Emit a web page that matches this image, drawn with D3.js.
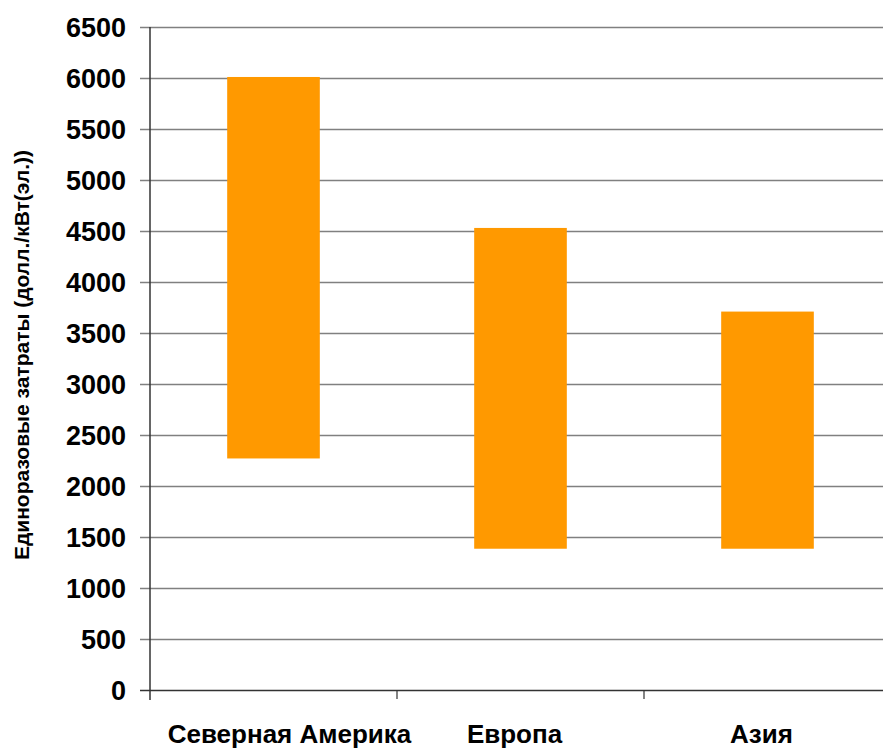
<!DOCTYPE html>
<html>
<head>
<meta charset="utf-8">
<script src="https://cdn.jsdelivr.net/npm/d3@7"></script>
<style>
body { margin: 0; background: #fff; }
svg { display: block; font-family: "Liberation Sans", Arial, sans-serif; font-weight: bold; }
</style>
</head>
<body>
<svg></svg>
<script>
// regions and cost range (low / high), USD per kW(e)
var regions = ["Северная Америка", "Европа", "Азия"];
var lowValues = [2270, 1385, 1385];
var highValues = [6010, 4530, 3710];
var yTicks = [0, 500, 1000, 1500, 2000, 2500, 3000, 3500, 4000, 4500, 5000, 5500, 6000, 6500];
var yTitle = "Единоразовые затраты (долл./кВт(эл.))";

var svgWidth = 883, svgHeight = 749;
var plotLeft = 150, plotRight = 891, plotTop = 27, plotBottom = 690;

var svg = d3.select('svg')
    .attr("width", svgWidth)
    .attr("height", svgHeight);

var xScale = d3.scaleBand()
    .domain(regions)
    .range([plotLeft, plotRight])
    .paddingInner(0)
    .paddingOuter(0);

var yScale = d3.scaleLinear()
    .domain([0, 6500])
    .range([plotBottom, plotTop]);

// gridlines + tick labels
var yAxis = svg.append("g")
    .attr("transform", "translate(" + plotLeft + ",0)")
    .call(d3.axisLeft(yScale)
        .tickValues(yTicks)
        .tickFormat(d3.format("d"))
        .tickSize(-(plotRight - plotLeft))
        .tickSizeOuter(0)
        .tickPadding(0));

yAxis.select(".domain").remove();
yAxis.selectAll(".tick line")
    .attr("x1", -10)
    .attr("stroke", function(d) { return d === 0 ? "#333" : "#808080"; })
    .attr("stroke-width", 1.5);
yAxis.selectAll(".tick text")
    .attr("x", -24)
    .attr("dy", "0.36em")
    .attr("fill", "#000")
    .style("font-size", "27px")
    .style("font-weight", "bold")
    .style("font-family", "'Liberation Sans', Arial, sans-serif");

// bars (floating, low to high)
var bw = xScale.bandwidth() * 0.375;
svg.selectAll("rect.bar")
    .data(regions)
    .enter()
    .append("rect")
    .attr("class", "bar")
    .attr("x", function(d) { return xScale(d) + (xScale.bandwidth() - bw) / 2; })
    .attr("width", bw)
    .attr("y", function(d, i) { return yScale(highValues[i]); })
    .attr("height", function(d, i) { return yScale(lowValues[i]) - yScale(highValues[i]); })
    .attr("fill", "#FF9900");

// y axis line
svg.append("line")
    .attr("x1", plotLeft).attr("x2", plotLeft)
    .attr("y1", yScale(6500)).attr("y2", plotBottom + 10)
    .attr("stroke", "#333")
    .attr("stroke-width", 1.5);

// category labels
var xAxis = svg.append("g")
    .attr("transform", "translate(0," + plotBottom + ")")
    .call(d3.axisBottom(xScale).tickSize(0).tickPadding(0));
xAxis.select(".domain").remove();
xAxis.selectAll(".tick text")
    .attr("y", 53)
    .attr("dy", 0)
    .attr("dx", function(d, i) { return i === 0 ? 16 : -6; })
    .attr("fill", "#000")
    .style("font-size", "26px")
    .style("font-weight", "bold")
    .style("font-family", "'Liberation Sans', Arial, sans-serif");

// category boundary ticks
svg.selectAll("line.xtick")
    .data(regions.slice(1))
    .enter()
    .append("line")
    .attr("class", "xtick")
    .attr("x1", function(d) { return xScale(d); })
    .attr("x2", function(d) { return xScale(d); })
    .attr("y1", plotBottom)
    .attr("y2", plotBottom + 9)
    .attr("stroke", "#333")
    .attr("stroke-width", 1.2);

// y title
svg.append("text")
    .attr("transform", "translate(29,355) rotate(-90)")
    .attr("text-anchor", "middle")
    .style("font-size", "21px")
    .text(yTitle);
</script>
</body>
</html>
